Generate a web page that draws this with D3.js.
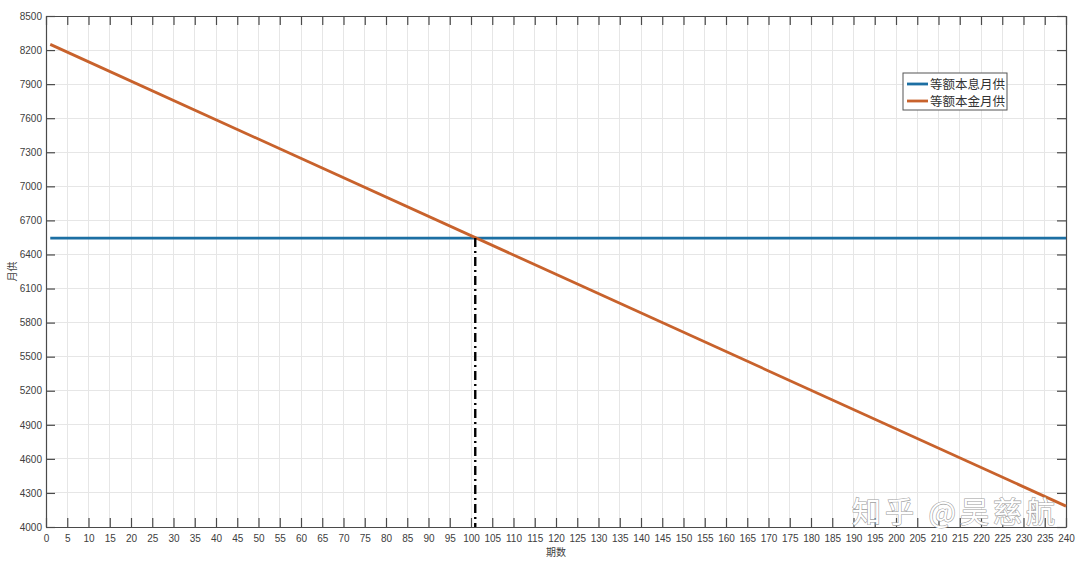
<!DOCTYPE html>
<html><head><meta charset="utf-8">
<script src="https://cdn.jsdelivr.net/npm/d3@7"></script>
<style>body{margin:0;background:#fff}svg{display:block}</style>
</head><body>
<script>
// Data
const xTicks = d3.range(0, 241, 5);
const yTicks = [4000,4300,4600,4900,5200,5500,5800,6100,6400,6700,7000,7300,7600,7900,8200,8500];
const seriesNames = ["等额本息月供", "等额本金月供"];
const periodsAnnuity = [1, 240];
const valuesAnnuity = [6544, 6544];
const periodsPrincipal = [1, 240];
const valuesPrincipal = [8250, 4184];
const crossPeriod = [101];
const crossValue = [6544];
const colors = ["#1C6FA3", "#C8622C"];

const W = 1080, H = 561;
const m = {l:46, r:14, t:16, b:34};
const svg = d3.select("body").append("svg").attr("width", W).attr("height", H);
const x = d3.scaleLinear().domain([0, 240]).range([m.l, W - m.r]);
const y = d3.scaleLinear().domain([4000, 8500]).range([H - m.b, m.t]);

const font = "'Liberation Sans', Arial, sans-serif";
const cjk = "'Noto Sans CJK SC', sans-serif";
const axisCol = "#4a4a4a";

// grid
const g = svg.append("g");
g.selectAll(".vg").data(xTicks).join("line")
  .attr("x1", d => x(d)).attr("x2", d => x(d)).attr("y1", y(4000)).attr("y2", y(8500))
  .attr("stroke", "#e6e6e6").attr("stroke-width", 1).attr("shape-rendering","crispEdges");
g.selectAll(".hg").data(yTicks).join("line")
  .attr("y1", d => y(d)).attr("y2", d => y(d)).attr("x1", x(0)).attr("x2", x(240))
  .attr("stroke", "#e6e6e6").attr("stroke-width", 1).attr("shape-rendering","crispEdges");

// axes (ticks inward, box on)
function styleAxis(sel){
  sel.select(".domain").attr("stroke", axisCol).attr("stroke-width", 1.2);
  sel.selectAll(".tick line").attr("stroke", axisCol).attr("stroke-width", 1.2);
  sel.selectAll(".tick text").attr("fill", "#404040").attr("font-family", font).attr("font-size", 10);
}
const fmt = d3.format("d");
const xb = svg.append("g").attr("transform", `translate(0,${y(4000)})`)
  .call(d3.axisBottom(x).tickValues(xTicks).tickFormat(fmt).tickSizeInner(-9).tickSizeOuter(0).tickPadding(8));
styleAxis(xb);
const xt = svg.append("g").attr("transform", `translate(0,${y(8500)})`)
  .call(d3.axisTop(x).tickValues(xTicks).tickSizeInner(-9).tickSizeOuter(0).tickFormat(""));
styleAxis(xt);
const yl = svg.append("g").attr("transform", `translate(${x(0)},0)`)
  .call(d3.axisLeft(y).tickValues(yTicks).tickFormat(fmt).tickSizeInner(-9).tickSizeOuter(0).tickPadding(4));
styleAxis(yl);
const yr = svg.append("g").attr("transform", `translate(${x(240)},0)`)
  .call(d3.axisRight(y).tickValues(yTicks).tickSizeInner(-9).tickSizeOuter(0).tickFormat(""));
styleAxis(yr);

// lines
const line = d3.line().x(d => x(d[0])).y(d => y(d[1]));
svg.append("path").datum(d3.zip(periodsAnnuity, valuesAnnuity)).attr("d", line)
  .attr("fill","none").attr("stroke", colors[0]).attr("stroke-width", 2.8);
svg.append("path").datum(d3.zip(periodsPrincipal, valuesPrincipal)).attr("d", line)
  .attr("fill","none").attr("stroke", colors[1]).attr("stroke-width", 2.8);

// dash-dot marker
svg.selectAll(".cross").data(d3.zip(crossPeriod, crossValue)).join("line")
  .attr("x1", d => x(d[0])).attr("x2", d => x(d[0]))
  .attr("y1", d => y(d[1])).attr("y2", y(4000))
  .attr("stroke", "#000").attr("stroke-width", 2.4).attr("stroke-dasharray", "9,4,2,4");

// axis labels
svg.append("text").attr("x", x(120)).attr("y", 556).attr("text-anchor","middle")
  .attr("font-family", cjk).attr("font-size", 10).attr("fill", "#404040").text("期数");
svg.append("text").attr("transform", `translate(16,${(y(4000)+y(8500))/2}) rotate(-90)`)
  .attr("text-anchor","middle").attr("font-family", cjk).attr("font-size", 10).attr("fill", "#404040").text("月供");

// legend
const lg = svg.append("g").attr("transform", "translate(903,73)");
lg.append("rect").attr("width", 104).attr("height", 37).attr("fill","#fff")
  .attr("stroke", "#555").attr("stroke-width", 1);
seriesNames.forEach((n, i) => {
  const yy = 11 + i * 17;
  lg.append("line").attr("x1", 4).attr("x2", 25).attr("y1", yy).attr("y2", yy)
    .attr("stroke", colors[i]).attr("stroke-width", 2.8);
  lg.append("text").attr("x", 27).attr("y", yy + 4.5).attr("font-family", cjk)
    .attr("font-size", 12.5).attr("fill", "#333").text(n);
});

// watermark
svg.append("text").attr("x", 852).attr("y", 523).attr("font-family", cjk)
  .attr("font-size", 29).attr("letter-spacing", 4).attr("fill", "#fff").attr("stroke", "#a0a0a0").attr("stroke-width", 1.2)
  .attr("paint-order","stroke").text("知乎 @吴慈航");
</script>
</body></html>
